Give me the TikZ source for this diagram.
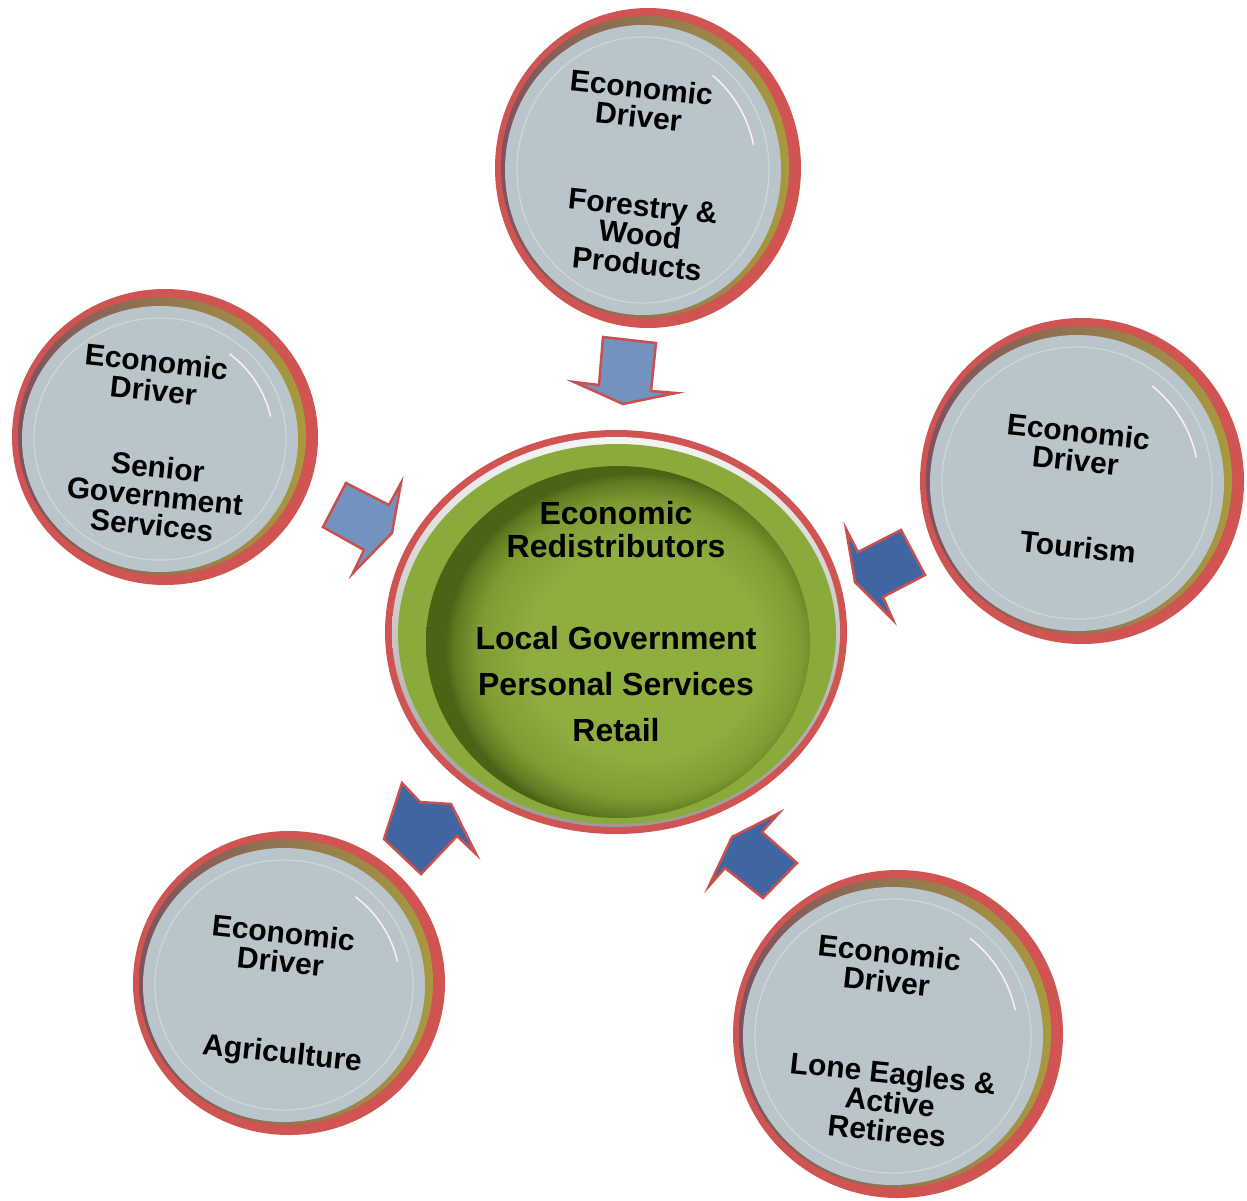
\documentclass[tikz,border=0pt]{standalone}
\usepackage{fontspec}
\setmainfont{Liberation Sans}
\usetikzlibrary{calc}
\definecolor{rimred}{HTML}{CF5452}
\definecolor{discgrey}{HTML}{B9C5CA}
\definecolor{discline}{HTML}{CCD6DA}
\definecolor{ringolive}{HTML}{A89A3E}
\definecolor{ringbrown}{HTML}{7E5260}
\definecolor{arrowlight}{HTML}{7492BE}
\definecolor{arrowdark}{HTML}{3F66A2}
\definecolor{arrowedge}{HTML}{C9504C}
\definecolor{greenband}{HTML}{8BAA3C}
\definecolor{greenlite}{HTML}{8FAE40}
\definecolor{greenmid}{HTML}{7E9C33}
\definecolor{greenedge}{HTML}{5E7A20}
\definecolor{greendark}{HTML}{4A6416}
\definecolor{ringwhite}{HTML}{F4F4F4}
\definecolor{ringgrey}{HTML}{9A9A9A}
\pgfdeclareradialshading{greendisc}{\pgfpoint{5bp}{-2bp}}{color(0bp)=(greenlite); color(15bp)=(greenlite); color(21bp)=(greenmid); color(24bp)=(greenedge); color(25bp)=(greendark); color(50bp)=(greendark)}
\newcommand\drvdisc[4]{%
  \fill[rimred] (#1,#2) ellipse ({#3} and {#4});
  \shade[left color=ringbrown, right color=ringolive] ({#1-3},{#2-1}) ellipse ({#3-9} and {#4-9});
  \fill[discgrey] ({#1-5},{#2+2}) ellipse ({#3-15} and {#4-15});
  \draw[discline, line width=1.3pt] ({#1-5},{#2+2}) ellipse ({#3-27} and {#4-27});
  \draw[white!75!pink, line width=1.5pt] ({#1-5},{#2+2}) ++(-12:{#3-40} and {#4-40}) arc[start angle=-12, end angle=-52, x radius={#3-40}, y radius={#4-40}];
}
\tikzset{
  drvtext/.style={font=\bfseries\fontsize{30}{29}\selectfont, align=center, inner sep=0pt, rotate=-6},
  midtext/.style={font=\bfseries\fontsize{32}{33}\selectfont, align=center, inner sep=0pt},
  blockarrow/.style={draw=arrowedge, line width=2.5pt, line join=miter},
}
\begin{document}
\begin{tikzpicture}[x=1pt,y=-1pt]
\useasboundingbox (0,0) rectangle (1247,1200);
\fill[white] (0,0) rectangle (1247,1200);

% outer discs
\drvdisc{648}{168}{153}{160}
\drvdisc{165}{437}{153}{148}
\drvdisc{1082}{481}{162}{163}
\drvdisc{289}{983}{156}{152}
\drvdisc{898}{1034}{165}{164}

% central disc
\fill[rimred] (616,632) ellipse (231 and 202);
\shade[top color=ringwhite, bottom color=ringgrey] (616,632) ellipse (224 and 195);
\fill[greenband] (617,634) ellipse (219 and 190);
\shade[shading=greendisc] (618,642) ellipse (192 and 176);

% block arrows
\filldraw[blockarrow, fill=arrowlight] (603,337) -- (656,343) -- (651,391) -- (676,393) -- (623,404) -- (574,382) -- (599,385) -- cycle;
\filldraw[blockarrow, fill=arrowlight] (346,483) -- (389,505) -- (401,483) -- (392,533) -- (353,573) -- (364,550) -- (323,527) -- cycle;
\filldraw[blockarrow, fill=arrowdark] (846,529) -- (858,552) -- (901,530) -- (925,575) -- (883,597) -- (893,620) -- (855,582) -- cycle;
\filldraw[blockarrow, fill=arrowdark] (402,783) -- (420,802) -- (451,804) -- (476,854) -- (457,836) -- (421,874) -- (384,839) -- cycle;
\filldraw[blockarrow, fill=arrowdark] (779,813) -- (762,832) -- (797,863) -- (763,898) -- (725,868) -- (709,886) -- (732,837) -- cycle;

% texts
\node[drvtext] (forA) at (640,102) {Economic\\Driver};
\node[drvtext] (forB) at (640,235) {Forestry \&\\Wood\\Products};
\node[drvtext] (senA) at (155,376) {Economic\\Driver};
\node[drvtext] (senB) at (155,496) {Senior\\Government\\Services};
\node[drvtext] (touA) at (1077,446) {Economic\\Driver};
\node[drvtext] (touB) at (1078,547) {Tourism};
\node[drvtext] (agrA) at (282,947) {Economic\\Driver};
\node[drvtext] (agrB) at (282,1055) {Agriculture};
\node[drvtext] (lonA) at (888,967) {Economic\\Driver};
\node[drvtext] (lonB) at (890,1102) {Lone Eagles \&\\Active\\Retirees};

\node[midtext] (midA) at (616,530) {Economic\\Redistributors};
\node[midtext, font=\bfseries\fontsize{32}{46}\selectfont] (midB) at (616,684) {Local Government\\Personal Services\\Retail};
\end{tikzpicture}
\end{document}
